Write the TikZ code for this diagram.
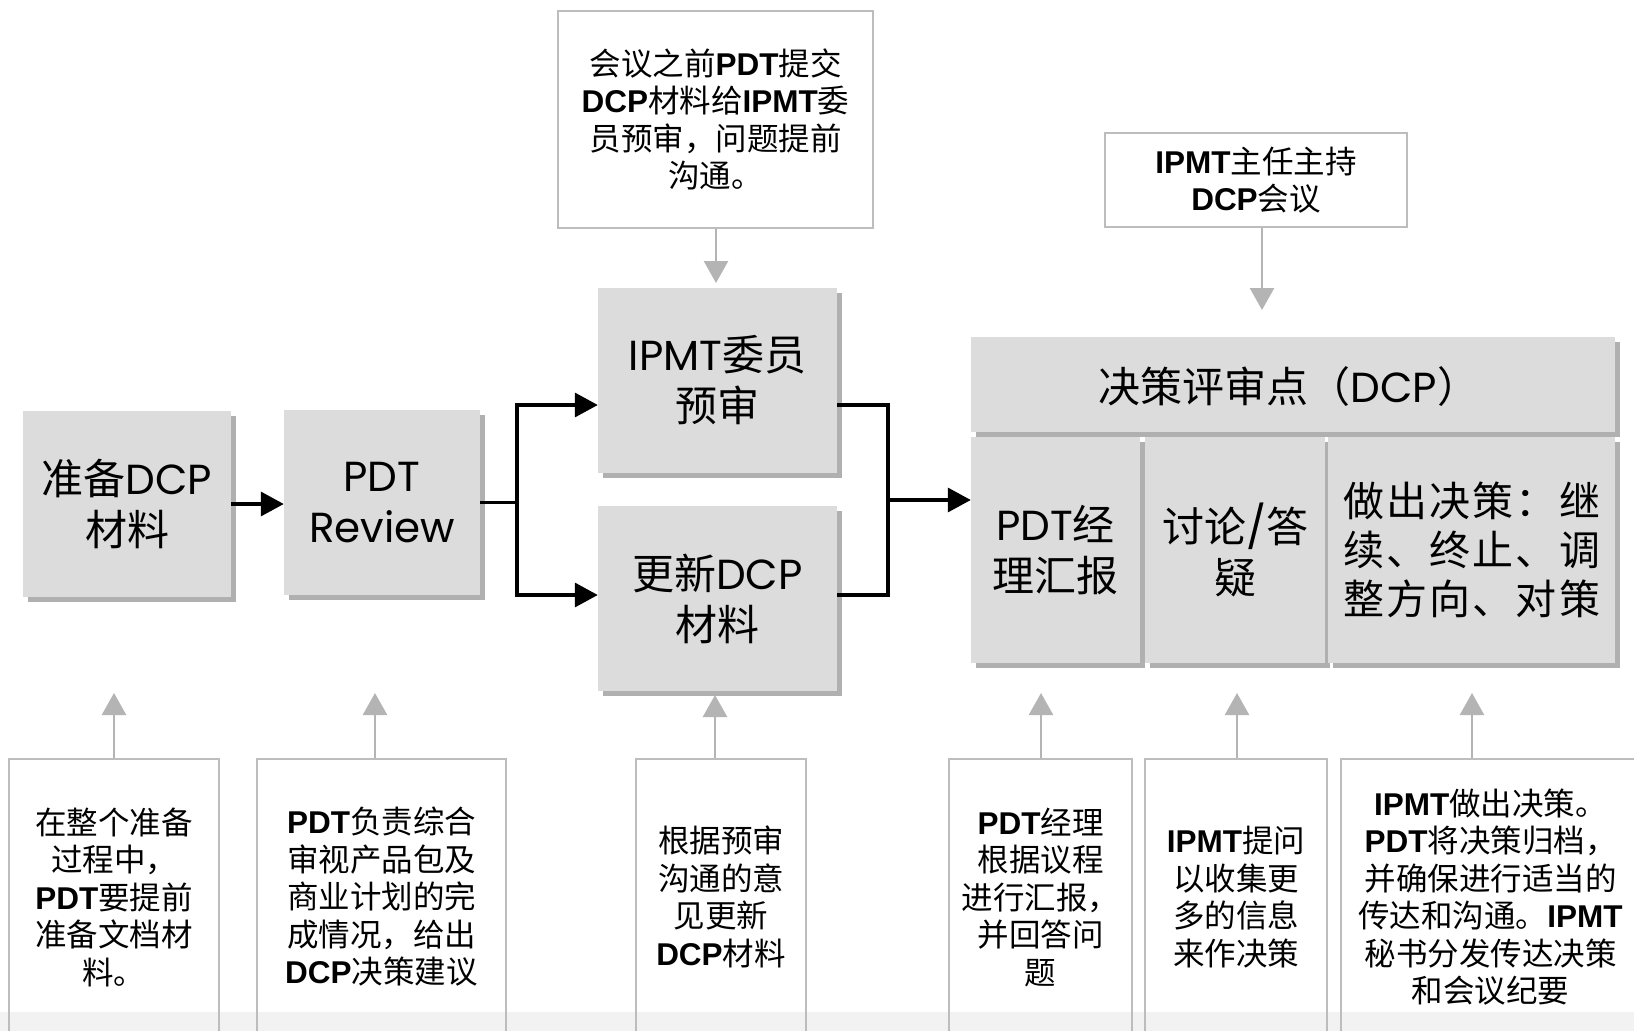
\documentclass[tikz,border=0pt]{standalone}
\usepackage{fontspec}
\setmainfont{Noto Sans CJK SC}
\newfontfamily\pop{Poppins}
\newfontfamily\arl{Liberation Sans}
\usetikzlibrary{arrows.meta,shadows}
\definecolor{boxfill}{HTML}{DCDCDC}
\definecolor{shadowc}{HTML}{B0B0B0}
\definecolor{linec}{HTML}{BDBDBD}
\definecolor{arrowc}{HTML}{B4B4B4}
\definecolor{bandc}{HTML}{F2F2F2}
\newcommand{\lat}[1]{{\pop #1}}
\newcommand{\bl}[1]{{\arl\bfseries #1}}
\tikzset{
  gbox/.style={fill=boxfill, draw=none, inner sep=0pt, align=center,
    font=\fontsize{42}{51}\selectfont,
    drop shadow={shadow xshift=5pt, shadow yshift=-5pt, opacity=1, fill=shadowc}},
  note/.style={draw=linec, line width=2.5pt, inner sep=0pt, align=center,
    font=\fontsize{31.5}{37.5}\selectfont},
  blk/.style={line width=3.5pt, draw=black},
  blkarrow/.style={blk, -{Triangle[width=24pt,length=23pt]}},
  garrow/.style={line width=2.5pt, draw=arrowc, -{Triangle[width=24pt,length=22pt]}, arrowc}
}
\begin{document}
\begin{tikzpicture}[x=1pt,y=-1pt]
\useasboundingbox (0,0) rectangle (1634,1031);
\clip (0,0) rectangle (1634,1031);
\fill[white] (0,0) rectangle (1634,1031);
\fill[bandc] (0,1012) rectangle (1634,1031);

% main gray boxes
\node[gbox, minimum width=208pt, minimum height=186pt] (b1) at (127,504) {准备\lat{DCP}\\材料};
\node[gbox, minimum width=196pt, minimum height=185pt] (b2) at (382,502.5) {\lat{PDT}\\\lat{Review}};
\node[gbox, minimum width=239pt, minimum height=185pt] (b3) at (717.5,380.5) {\lat{IPMT}委员\\预审};
\node[gbox, minimum width=239pt, minimum height=185pt] (b4) at (717.5,598.5) {更新\lat{DCP}\\材料};

% DCP block
\node[gbox, minimum width=644pt, minimum height=95pt] (hdr) at (1293,384.5) {};
\node[inner sep=0pt, font=\fontsize{42}{51}\selectfont] (hdrt) at (1289,387) {决策评审点（\lat{DCP}）};
\node[gbox, minimum width=169pt, minimum height=226pt] (c1) at (1055.5,550) {\lat{PDT}经\\理汇报};
\node[gbox, minimum width=180pt, minimum height=226pt] (c2) at (1235,550) {讨论\lat{/}答\\疑};
\node[gbox, minimum width=287pt, minimum height=226pt, font=\fontsize{41}{49}\selectfont] (c3) at (1471.5,550)
  {\makebox[257pt][s]{做\hfil 出\hfil 决\hfil 策\hfil ：\hfil 继}\\
   \makebox[257pt][s]{续\hfil 、\hfil 终\hfil 止\hfil 、\hfil 调}\\
   \makebox[257pt][s]{整\hfil 方\hfil 向\hfil 、\hfil 对\hfil 策}};

% black connectors
\coordinate (j1t) at (517,405);
\coordinate (j1b) at (517,595);
\coordinate (j2) at (888,500);
\draw[blkarrow] (b1.east) -- (b1.east -| b2.west);
\draw[blk] (b2.east) -- (b2.east -| j1t);
\draw[blkarrow] (b2.east -| j1t) |- (b3.west |- j1t);
\draw[blkarrow] (b2.east -| j1t) |- (b4.west |- j1b);
\draw[blk] (b3.east |- j1t) -| (j2);
\draw[blk] (b4.east |- j1b) -| (j2);
\draw[blkarrow] (j2) -- (j2 -| hdr.west);

% top notes
\node[note, fill=white, minimum width=315pt, minimum height=217pt] (n1) at (715.5,119.5)
  {会议之前\bl{PDT}提交\\\bl{DCP}材料给\bl{IPMT}委\\员预审，问题提前\\沟通。};
\node[note, fill=white, minimum width=302pt, minimum height=94pt] (n2) at (1256,180)
  {\bl{IPMT}主任主持\\\bl{DCP}会议};
\coordinate (t1) at (716,283);
\coordinate (t2) at (1262,310);
\draw[garrow] (n1.south -| t1) -- (t1);
\draw[garrow] (n2.south -| t2) -- (t2);

% bottom notes
\node[note, minimum width=210pt, minimum height=276pt] (a1) at (114,897)
  {在整个准备\\过程中，\\\bl{PDT}要提前\\准备文档材\\料。};
\node[note, minimum width=249pt, minimum height=276pt] (a2) at (381.5,897)
  {\bl{PDT}负责综合\\审视产品包及\\商业计划的完\\成情况，给出\\\bl{DCP}决策建议};
\node[note, minimum width=170pt, minimum height=276pt] (a3) at (721,897)
  {根据预审\\沟通的意\\见更新\\\bl{DCP}材料};
\node[note, minimum width=183pt, minimum height=276pt] (a4) at (1040.5,897)
  {\bl{PDT}经理\\根据议程\\进行汇报，\\并回答问\\题};
\node[note, minimum width=182pt, minimum height=276pt] (a5) at (1236,897)
  {\bl{IPMT}提问\\以收集更\\多的信息\\来作决策};
\node[note, minimum width=299pt, minimum height=276pt] (a6) at (1490.5,897)
  {\bl{IPMT}做出决策。\\\bl{PDT}将决策归档，\\并确保进行适当的\\传达和沟通。\bl{IPMT}\\秘书分发传达决策\\和会议纪要};

\coordinate (uA) at (114,693);
\coordinate (uB) at (375,693);
\coordinate (uC) at (715,695);
\coordinate (uD) at (1041,693);
\coordinate (uE) at (1237,693);
\coordinate (uF) at (1472,693);
\draw[garrow] (a1.north -| uA) -- (uA);
\draw[garrow] (a2.north -| uB) -- (uB);
\draw[garrow] (a3.north -| uC) -- (uC);
\draw[garrow] (a4.north -| uD) -- (uD);
\draw[garrow] (a5.north -| uE) -- (uE);
\draw[garrow] (a6.north -| uF) -- (uF);
\end{tikzpicture}
\end{document}
